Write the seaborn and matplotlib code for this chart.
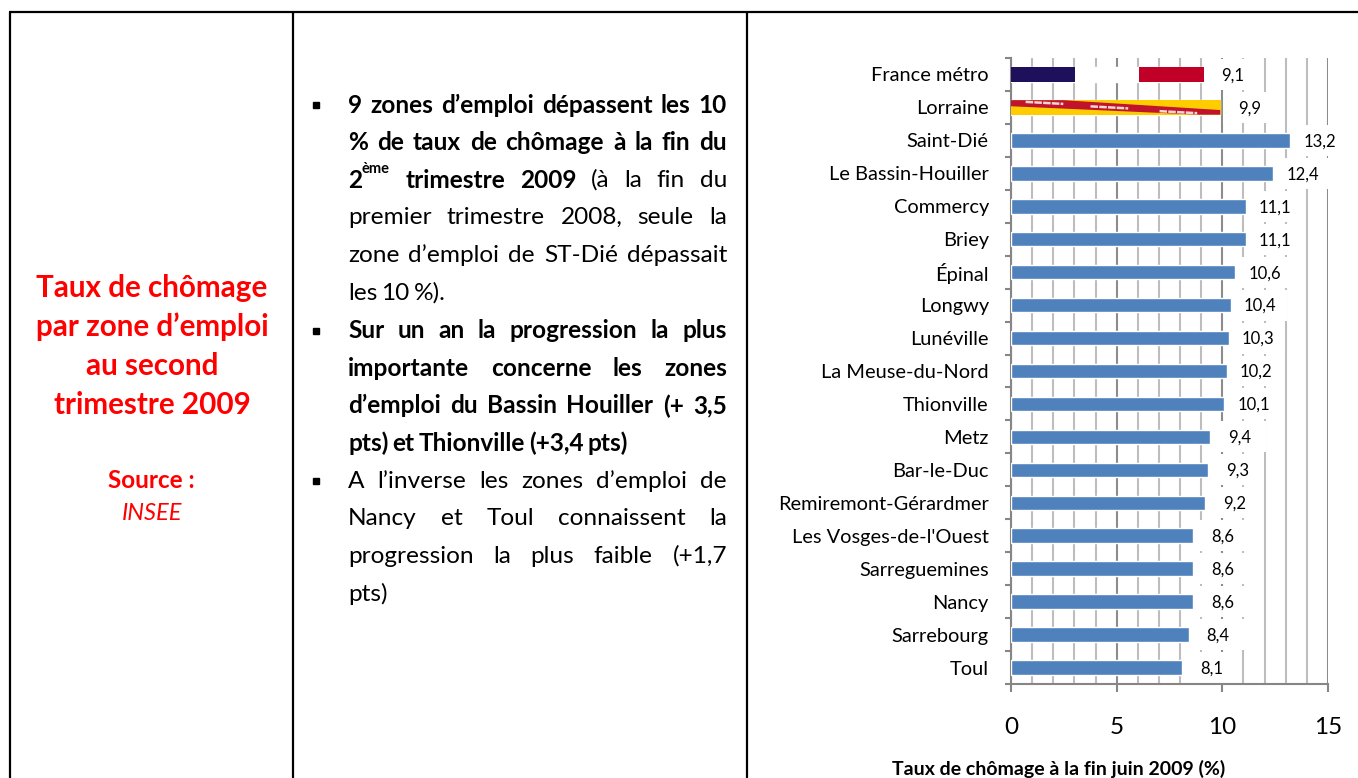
import matplotlib
matplotlib.use("Agg")
import matplotlib.pyplot as plt
from matplotlib.patches import Rectangle
import numpy as np
import pandas as pd
import seaborn as sns

zones = ["France métro", "Lorraine", "Saint-Dié", "Le Bassin-Houiller", "Commercy", "Briey",
         "Épinal", "Longwy", "Lunéville", "La Meuse-du-Nord", "Thionville", "Metz", "Bar-le-Duc",
         "Remiremont-Gérardmer", "Les Vosges-de-l'Ouest", "Sarreguemines", "Nancy", "Sarrebourg", "Toul"]
taux = [9.1, 9.9, 13.2, 12.4, 11.1, 11.1, 10.6, 10.4, 10.3, 10.2, 10.1, 9.4, 9.3, 9.2, 8.6, 8.6, 8.6, 8.4, 8.1]
labels = ["9,1", "9,9", "13,2", "12,4", "11,1", "11,1", "10,6", "10,4", "10,3", "10,2", "10,1",
          "9,4", "9,3", "9,2", "8,6", "8,6", "8,6", "8,4", "8,1"]
x_ticks = [0, 5, 10, 15]
minor_grid = [1, 2, 3, 4, 6, 7, 8, 9, 11, 12, 13, 14]

titre = ["Taux de chômage", "par zone d’emploi", "au second", "trimestre 2009"]

# each line: (words, justified?, bullet?), "*" prefix = bold
body = [
    ("*9 *zones *d’emploi *dépassent *les *10", True, True),
    ("*% *de *taux *de *chômage *à *la *fin *du", True, False),
    ("*2 *trimestre *2009 (à la fin du", True, False),
    ("premier trimestre 2008, seule la", True, False),
    ("zone d’emploi de ST-Dié dépassait", True, False),
    ("les 10 %).", False, False),
    ("*Sur *un *an *la *progression *la *plus", True, True),
    ("*importante *concerne *les *zones", True, False),
    ("*d’emploi *du *Bassin *Houiller *(+ *3,5", True, False),
    ("*pts) *et *Thionville *(+3,4 *pts)", False, False),
    ("A l’inverse les zones d’emploi de", True, True),
    ("Nancy et Toul connaissent la", True, False),
    ("progression la plus faible (+1,7", True, False),
    ("pts)", False, False),
]

sns.set_theme(style="white")
plt.rcParams["font.family"] = ["Lato", "DejaVu Sans"]

W, H = 1358, 778
fig = plt.figure(figsize=(W / 100, H / 100), dpi=100, facecolor="white")

# page layer in pixel coordinates
page = fig.add_axes([0, 0, 1, 1], zorder=0)
page.set_xlim(0, W)
page.set_ylim(H, 0)
page.axis("off")

for x in [9.5, 293, 747]:
    page.plot([x, x], [12, H], color="black", lw=1.6, solid_capstyle="butt")
page.plot([8.5, 1358], [12, 12], color="black", lw=1.6, solid_capstyle="butt")

RED = "#ff0000"
for y, t in zip([288, 327, 366, 405], titre):
    page.text(152, y, t, color=RED, fontsize=21.3, fontweight="bold", ha="center", va="center")
page.text(151, 480, "Source :", color=RED, fontsize=17.5, fontweight="bold", ha="center", va="center")
page.text(152, 513, "INSEE", color=RED, fontsize=17, fontstyle="italic", ha="center", va="center")

renderer = fig.canvas.get_renderer()
BODY_SIZE = 17.6


def word_width(word, weight):
    t = page.text(0, 0, word, fontsize=BODY_SIZE, fontweight=weight)
    w = t.get_window_extent(renderer).width
    t.remove()
    return w


LEFT, RIGHT = 348, 727
SPACE = 4.0
y = 105
for line, justified, bullet in body:
    words = [(w.lstrip("*"), "bold" if w.startswith("*") else "normal") for w in line.split()]
    widths = [word_width(w, wt) for w, wt in words]
    if line.startswith("*2 "):
        widths[0] += 29  # room for the superscript
    gap = (RIGHT - LEFT - sum(widths)) / (len(words) - 1) if justified else SPACE
    x = LEFT
    for (w, wt), wd in zip(words, widths):
        page.text(x, y, w, fontsize=BODY_SIZE, fontweight=wt, color="black", va="center", ha="left")
        if line.startswith("*2 ") and w == "2":
            page.text(x + 14, y - 11, "ème", fontsize=10.5, fontweight="bold", color="black", va="center", ha="left")
        x += wd + gap
    if bullet:
        page.plot([316], [y], marker="s", ms=4.5, color="black")
    y += 37.6

# chart
ax = fig.add_axes([1011 / W, 1 - 684 / H, (1328 - 1011) / W, (684 - 58) / H], zorder=1)
ax.patch.set_alpha(0)
df = pd.DataFrame({"zone": zones, "taux": taux})
sns.barplot(data=df, y="zone", x="taux", color="#4f81bd", saturation=1, width=0.44, ax=ax, orient="h", zorder=3)
ax.set_xlabel("")
ax.set_ylabel("")
ax.set_xticks(x_ticks)
ax.set_xticks(minor_grid, minor=True)
ax.set_xticklabels([str(t) for t in x_ticks], fontsize=17.5, color="black")
ax.set_yticks(np.arange(len(zones)), labels=zones, fontsize=14.4, color="black")
ax.grid(True, axis="x", which="major", color="#8c8c8c", lw=1.5)
ax.grid(True, axis="x", which="minor", color="#bdbdbd", lw=1.5)
ax.set_axisbelow(True)
for s in ["top", "right"]:
    ax.spines[s].set_visible(False)
for s in ["left", "bottom"]:
    ax.spines[s].set_color("#868686")
    ax.spines[s].set_linewidth(1.5)
ax.tick_params(axis="x", which="major", length=6, width=1.5, color="#868686", pad=18, bottom=True)
ax.tick_params(axis="x", which="minor", length=0)
ax.tick_params(axis="y", length=0, pad=16)
for k in range(len(zones) + 1):
    ax.plot([-0.28, 0], [k - 0.5, k - 0.5], color="#868686", lw=1.5, clip_on=False, solid_capstyle="butt")

bars = list(ax.patches)
# flags painted inside the first two bars
b0 = bars[0]
x0, y0, bw, bh = b0.get_x(), b0.get_y(), b0.get_width(), b0.get_height()
flag = np.array([[[0x1f, 0x10, 0x5c], [255, 255, 255], [0xc0, 0x00, 0x27]]], dtype=np.uint8)
ax.imshow(flag, extent=(x0, x0 + bw, y0 + bh, y0), aspect="auto", interpolation="nearest", zorder=4)
b1 = bars[1]
x1, y1, bw1, bh1 = b1.get_x(), b1.get_y(), b1.get_width(), b1.get_height()
ax.imshow(np.array([[[0xff, 0xcc, 0x00]]], dtype=np.uint8), extent=(x1, x1 + bw1, y1 + bh1, y1),
          aspect="auto", zorder=4)
ax.add_patch(plt.Polygon([(x1, y1), (x1 + 0.25 * bw1, y1), (x1 + bw1, y1 + 0.68 * bh1), (x1 + bw1, y1 + bh1),
                          (x1 + 0.9 * bw1, y1 + bh1), (x1, y1 + 0.42 * bh1)], color="#c0142c", lw=0, zorder=5))
for f in [0.16, 0.47, 0.8]:
    ax.plot([x1 + (f - 0.09) * bw1, x1 + (f + 0.09) * bw1],
            [y1 + (f - 0.02) * bh1 - 0.01, y1 + (f + 0.12) * bh1 - 0.01],
            color="#f3d6d6", lw=1.8, ls=(0, (3, 0.5)), zorder=6)
ax.set_xlim(0, 15)
ax.set_ylim(len(zones) - 0.5, -0.5)

for k, (bar, lab) in enumerate(zip(bars, labels)):
    cx = bar.get_width() + 1.4
    # white box behind each value, hides the grid like the original labels do
    ax.add_patch(Rectangle((cx - 1.25, k - 0.47), 2.5, 0.94, facecolor="white", edgecolor="none", zorder=2))
    ax.text(cx, k + 0.03, lab, fontsize=12, color="black", ha="center", va="center", zorder=7)

page.text(1059, 769, "Taux de chômage à la fin juin 2009 (%)", fontsize=14, fontweight="bold",
          color="black", ha="center", va="center")

fig.savefig("out.png", dpi=100, facecolor="white")
